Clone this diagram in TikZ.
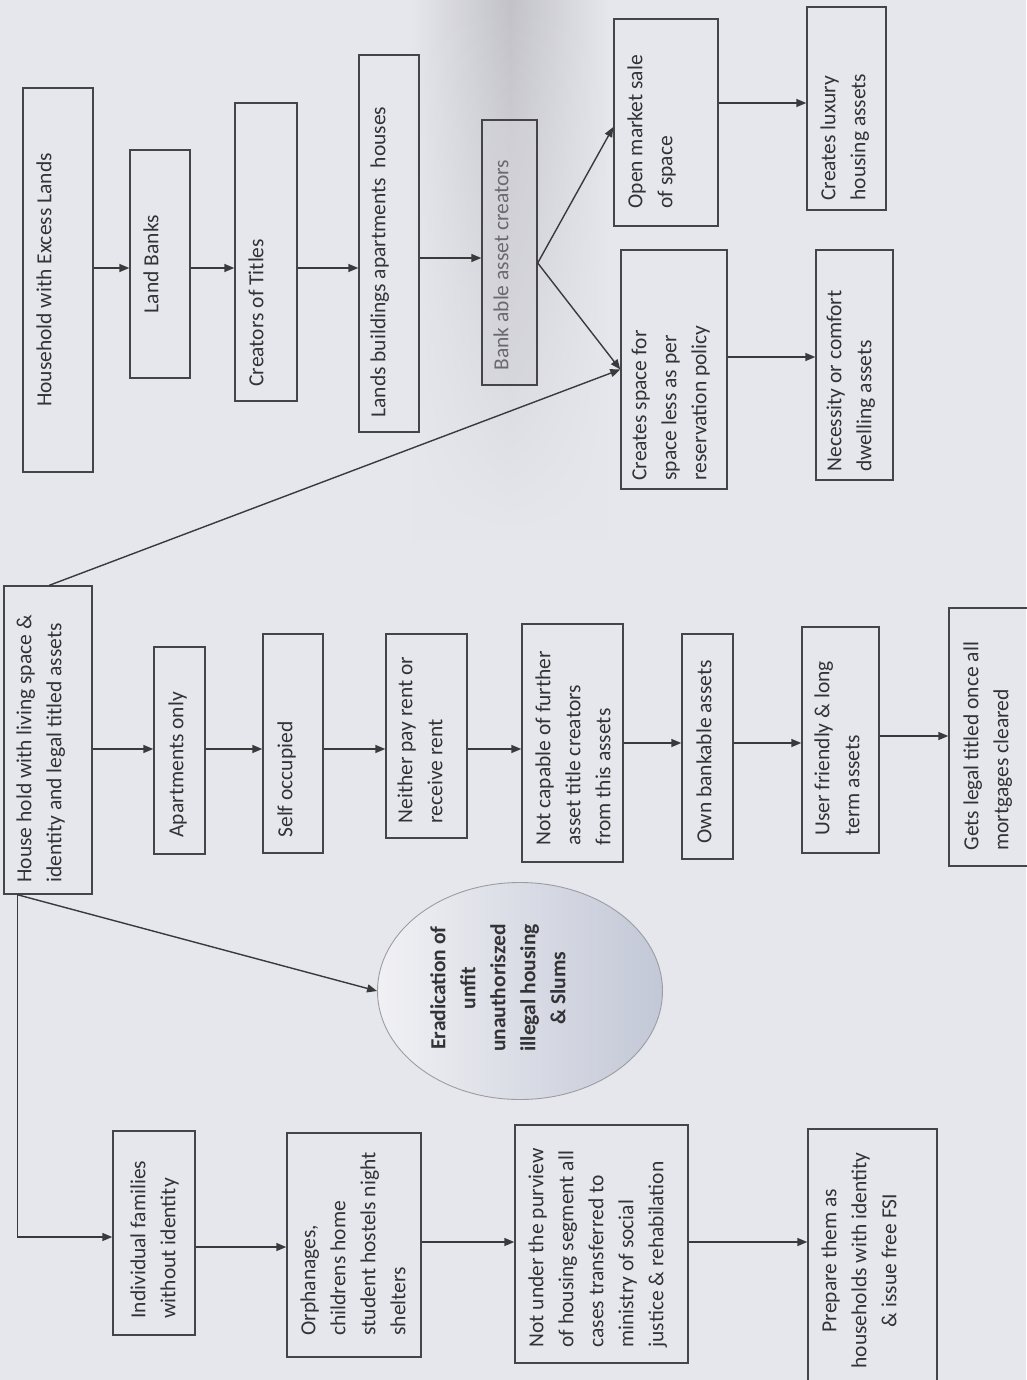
\documentclass[tikz,border=0pt]{standalone}
\usepackage{fontspec}
\setmainfont{Carlito}
\usetikzlibrary{arrows.meta,fit,shapes.geometric,fadings}
\definecolor{bgc}{HTML}{E6E7EC}
\definecolor{shd}{HTML}{C2C2C8}
\definecolor{boxc}{HTML}{454548}
\definecolor{txtc}{HTML}{333336}
\definecolor{arrc}{HTML}{3A3A3D}
\definecolor{bankfill}{HTML}{D2D2D8}
\definecolor{banktxt}{HTML}{6A6A6E}
\definecolor{elll}{HTML}{F1F1F4}
\definecolor{ellr}{HTML}{C3C8D7}
\definecolor{ellb}{HTML}{9C9CA2}
\tikzset{
  box/.style={draw=boxc, line width=1.4pt, inner sep=0pt},
  lbl/.style={rotate=90, inner sep=0pt, text=txtc, align=left,
    font=\fontsize{21.5}{30}\selectfont},
  arr/.style={draw=arrc, line width=1.4pt, -{Triangle[length=10pt,width=8pt]}},
}
\begin{document}
\begin{tikzpicture}[x=1pt,y=1pt]
\useasboundingbox (0,0) rectangle (1026,-1380);
\fill[bgc] (0,0) rectangle (1026,-1380);
\shade[left color=bgc, right color=bgc, middle color=shd, path fading=south] (410,0) rectangle (610,-540);

% ---- top branch ----
\node[box, fit={(23,-88)(93,-472)}] (hx) {};
\node[lbl, align=center, anchor=north] (hx-t) at ([xshift=14]hx.west) {Household with Excess Lands};
\node[box, fit={(130,-150)(190,-378)}] (lb) {};
\node[lbl, align=center, anchor=north] (lb-t) at ([xshift=14]lb.west) {Land Banks};
\node[box, fit={(235,-103)(297,-401)}] (ct) {};
\node[lbl, anchor=north west] (ct-t) at ([shift={(14,15)}]ct.south west) {Creators of Titles};
\node[box, fit={(359,-55)(419,-432)}] (lba) {};
\node[lbl, anchor=north west] (lba-t) at ([shift={(12,15)}]lba.south west) {Lands buildings apartments~ houses};
\node[box, fit={(482,-120)(537,-385)}, fill=bankfill, fill opacity=0.6] (bk) {};
\node[lbl, anchor=north west, text=banktxt] (bk-t) at ([shift={(12,15)}]bk.south west) {Bank able asset creators};
\node[box, fit={(614,-19)(718,-226)}] (om) {};
\node[lbl, anchor=north west] (om-t) at ([shift={(14,18)}]om.south west) {Open market sale\\of space};
\node[box, fit={(807,-7)(886,-210)}] (lux) {};
\node[lbl, anchor=north west] (lux-t) at ([shift={(14,10)}]lux.south west) {Creates luxury\\housing assets};
\node[box, fit={(621,-250)(727,-489)}] (cs) {};
\node[lbl, anchor=north west] (cs-t) at ([shift={(11,9)}]cs.south west) {Creates space for\\space less as per\\reservation policy};
\node[box, fit={(816,-250)(893,-480)}] (nec) {};
\node[lbl, anchor=north west] (nec-t) at ([shift={(11,9)}]nec.south west) {Necessity or comfort\\dwelling assets};

% ---- middle branch ----
\node[box, fit={(4,-586)(92,-894)}] (hl) {};
\node[lbl, anchor=north west] (hl-t) at ([shift={(13,12)}]hl.south west) {House hold with living space \&\\identity and legal titled assets};
\node[box, fit={(154,-647)(205,-854)}] (ap) {};
\node[lbl, anchor=north west] (ap-t) at ([shift={(15,17)}]ap.south west) {Apartments only};
\node[box, fit={(263,-634)(323,-853)}] (so) {};
\node[lbl, anchor=north west] (so-t) at ([shift={(15,16)}]so.south west) {Self occupied};
\node[box, fit={(386,-634)(467,-838)}] (np) {};
\node[lbl, anchor=north west] (np-t) at ([shift={(12,15)}]np.south west) {Neither pay rent or\\receive rent};
\node[box, fit={(522,-624)(623,-862)}] (nc) {};
\node[lbl, anchor=north west] (nc-t) at ([shift={(14,17)}]nc.south west) {Not capable of further\\asset title creators\\from this assets};
\node[box, fit={(682,-634)(733,-859)}] (ob) {};
\node[lbl, anchor=north west] (ob-t) at ([shift={(15,16)}]ob.south west) {Own bankable assets};
\node[box, fit={(802,-627)(879,-853)}] (uf) {};
\node[lbl, anchor=north west] (uf-t) at ([shift={(13,18)}]uf.south west) {User friendly \& long\\term assets};
\node[box, fit={(949,-608)(1040,-866)}] (gl) {};
\node[lbl, anchor=north west] (gl-t) at ([shift={(15,16)}]gl.south west) {Gets legal titled once all\\mortgages cleared};

% ---- ellipse ----
\node[ellipse, draw=ellb, line width=0.9pt, left color=elll, right color=ellr,
      minimum width=285, minimum height=217, inner sep=0pt] (el) at (520,-991) {};
\node[lbl, align=center, anchor=north, font=\fontsize{21.5}{30}\selectfont\bfseries] (el-t) at (430,-988)
  {Eradication of\\unfit\\unauthoriszed\\illegal housing\\\& Slums};

% ---- bottom branch ----
\node[box, fit={(113,-1131)(195,-1335)}] (ind) {};
\node[lbl, anchor=north west] (ind-t) at ([shift={(18,17)}]ind.south west) {Individual families\\without identity};
\node[box, fit={(287,-1133)(421,-1357)}] (orp) {};
\node[lbl, anchor=north west] (orp-t) at ([shift={(14,22)}]orp.south west) {Orphanages,\\childrens home\\student hostels night\\shelters};
\node[box, fit={(515,-1125)(688,-1363)}] (nu) {};
\node[lbl, anchor=north west] (nu-t) at ([shift={(14,16)}]nu.south west) {Not under the purview\\of housing segment all\\cases transferred to\\ministry of social\\justice \& rehabilation};
\node[box, fit={(808,-1129)(937,-1392)}] (pr) {};
\node[lbl, align=center, anchor=north] (pr-t) at ([xshift=14]pr.west) {Prepare them as\\households with identity\\\& issue free FSI};

\coordinate (hlb) at ([xshift=14]hl.south west);
\coordinate (hlt) at ([xshift=46]hl.north west);

% ---- connectors ----
\draw[arr] (hx.east |- 0,-268) -- (lb.west |- 0,-268);
\draw[arr] (lb.east |- 0,-268) -- (ct.west |- 0,-268);
\draw[arr] (ct.east |- 0,-268) -- (lba.west |- 0,-268);
\draw[arr] (lba.east |- 0,-258) -- (bk.west |- 0,-258);
\draw[arr] (bk.east |- 0,-263) -- (om.west |- 0,-127);
\draw[arr] (bk.east |- 0,-263) -- (cs.west);
\draw[arr] (hlt) -- (cs.west);
\draw[arr] (om.east |- 0,-103) -- (lux.west |- 0,-103);
\draw[arr] (cs.east |- 0,-357) -- (nec.west |- 0,-357);

\draw[arr] (hl.east |- 0,-749) -- (ap.west |- 0,-749);
\draw[arr] (ap.east |- 0,-749) -- (so.west |- 0,-749);
\draw[arr] (so.east |- 0,-749) -- (np.west |- 0,-749);
\draw[arr] (np.east |- 0,-749) -- (nc.west |- 0,-749);
\draw[arr] (nc.east |- 0,-743) -- (ob.west |- 0,-743);
\draw[arr] (ob.east |- 0,-743) -- (uf.west |- 0,-743);
\draw[arr] (uf.east |- 0,-736) -- (gl.west |- 0,-736);

\draw[arr] (hlb) -- (el.west);
\draw[arr] (hlb) |- (ind.west |- 0,-1237);
\draw[arr] (ind.east |- 0,-1247) -- (orp.west |- 0,-1247);
\draw[arr] (orp.east |- 0,-1242) -- (nu.west |- 0,-1242);
\draw[arr] (nu.east |- 0,-1242) -- (pr.west |- 0,-1242);
\end{tikzpicture}
\end{document}
